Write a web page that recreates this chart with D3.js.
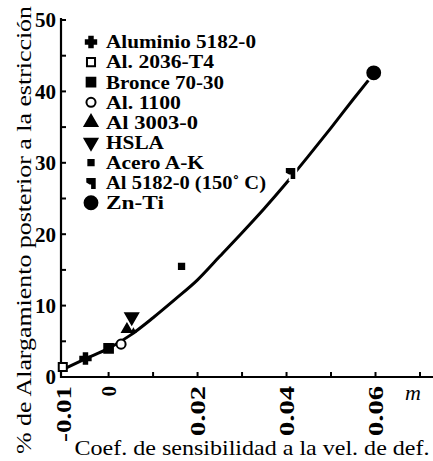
<!DOCTYPE html>
<html>
<head>
<meta charset="utf-8">
<script src="https://cdn.jsdelivr.net/npm/d3@7"></script>
<style>
  html, body { margin: 0; padding: 0; background: #fff; }
  svg { display: block; }
</style>
</head>
<body>
<svg id="chart" width="433" height="461"></svg>
<script>
// ---- data ----
const seriesNames = ["Aluminio 5182-0", "Al. 2036-T4", "Bronce 70-30", "Al. 1100", "Al 3003-0", "HSLA", "Acero A-K", "Al 5182-0 (150\u02da C)", "Zn-Ti"];
const seriesSymbols = ["cross", "squareOpen", "square", "circleOpen", "triangleUp", "triangleDown", "squareSmall", "hook", "circleBig"];
const pointSeries = [0, 1, 2, 3, 4, 5, 6, 7, 8];
const pointM      = [-0.0052, -0.0103, 0.0, 0.0028, 0.0045, 0.0052, 0.0164, 0.0409, 0.0596];
const pointPct    = [2.6, 1.4, 4.0, 4.6, 6.8, 8.4, 15.5, 28.6, 42.6];
const curveM   = [-0.0105, -0.005, 0.0, 0.005, 0.01, 0.015, 0.02, 0.025, 0.03, 0.035, 0.04, 0.045, 0.05, 0.055, 0.0595];
const curvePct = [1.0, 2.6, 4.0, 5.9, 8.3, 10.9, 13.6, 16.9, 20.2, 23.6, 27.2, 31.0, 34.9, 38.9, 42.4];
const xTickValues = [-0.01, 0, 0.02, 0.04, 0.06];
const xTickLabels = ["-0.01", "0", "0.02", "0.04", "0.06"];
const xMinorTicks = [-0.01, 0, 0.01, 0.02, 0.03, 0.04, 0.05, 0.06, 0.07];
const yTickValues = [0, 10, 20, 30, 40, 50];
const yMinorTicks = [5, 15, 25, 35, 45];
const xTitle = "Coef. de sensibilidad a la vel. de def.";
const yTitle = "% de Alargamiento posterior a la estricción";
const xUnit = "m";

const FONT = '"Liberation Serif"';

// ---- scales ----
const svg = d3.select("#chart");
const x = d3.scaleLinear().domain([-0.0107, 0.0727]).range([61, 432]);
const y = d3.scaleLinear().domain([0, 50]).range([377, 20]);

// axes lines
svg.append("line").attr("x1", x.range()[0]).attr("x2", 433).attr("y1", y(0)).attr("y2", y(0))
  .attr("stroke", "#000").attr("stroke-width", 2.2);
svg.append("line").attr("x1", x.range()[0]).attr("x2", x.range()[0]).attr("y1", y(0) + 1).attr("y2", y(50) - 2)
  .attr("stroke", "#000").attr("stroke-width", 2.2);

// x ticks (inward)
svg.selectAll(".xt").data(xMinorTicks.filter(d => d > -0.01)).enter().append("line")
  .attr("x1", d => x(d)).attr("x2", d => x(d)).attr("y1", y(0)).attr("y2", y(0) - 5)
  .attr("stroke", "#000").attr("stroke-width", 2);
// y ticks (inward)
svg.selectAll(".yt").data(yTickValues.concat(yMinorTicks)).enter().append("line")
  .attr("x1", x.range()[0]).attr("x2", x.range()[0] + 5).attr("y1", d => y(d)).attr("y2", d => y(d))
  .attr("stroke", "#000").attr("stroke-width", 2);

function txt(sel) { return sel.style("font-family", FONT).attr("fill", "#000"); }

// y tick labels
txt(svg.selectAll(".yl").data(yTickValues).enter().append("text"))
  .attr("x", 56).attr("y", d => y(d)).attr("dy", "0.35em")
  .attr("text-anchor", "end").attr("font-size", 21).attr("font-weight", "bold")
  .text(d => d);

// x tick labels (rotated)
txt(svg.selectAll(".xl").data(xTickValues).enter().append("text"))
  .attr("transform", d => `translate(${x(d)},386) rotate(-90)`)
  .attr("dy", "0.35em").attr("text-anchor", "end").attr("font-size", 21).attr("font-weight", "bold")
  .attr("textLength", (d, i) => xTickLabels[i].length === 1 ? null : (xTickLabels[i].length === 4 ? 50 : 56))
  .attr("lengthAdjust", "spacingAndGlyphs")
  .text((d, i) => xTickLabels[i]);

// unit m
txt(svg.append("text")).attr("x", 413).attr("y", 400).attr("text-anchor", "middle")
  .attr("font-size", 22).attr("font-style", "italic").text(xUnit);

// axis titles
txt(svg.append("text")).attr("x", 252).attr("y", 455).attr("text-anchor", "middle")
  .attr("font-size", 21).attr("textLength", 355).attr("lengthAdjust", "spacingAndGlyphs").text(xTitle);
txt(svg.append("text")).attr("transform", "translate(31,230) rotate(-90)").attr("text-anchor", "middle")
  .attr("font-size", 21).attr("textLength", 448).attr("lengthAdjust", "spacingAndGlyphs").text(yTitle);

// ---- curve ----
const curveData = curveM.map((m, i) => ({ m, v: curvePct[i] }));
svg.append("path").datum(curveData)
  .attr("d", d3.line().x(d => x(d.m)).y(d => y(d.v)).curve(d3.curveMonotoneX))
  .attr("fill", "none").attr("stroke", "#000").attr("stroke-width", 3);

// ---- symbols ----
const hook = {
  draw(ctx, size) {
    const s = Math.sqrt(size) / 2;
    ctx.moveTo(-s, -s);
    ctx.lineTo(s, -s);
    ctx.lineTo(s, s * 1.4);
    ctx.lineTo(s * 0.3, s * 1.4);
    ctx.lineTo(s * 0.3, s * 0.2);
    ctx.lineTo(-s * 0.3, s * 0.2);
    ctx.lineTo(-s, -s * 0.2);
    ctx.closePath();
  }
};
function symbolSpec(kind) {
  switch (kind) {
    case "cross": return { type: d3.symbolCross, size: 60, fill: true };
    case "squareOpen": return { type: d3.symbolSquare, size: 65, fill: false };
    case "square": return { type: d3.symbolSquare, size: 75, fill: true };
    case "circleOpen": return { type: d3.symbolCircle, size: 65, fill: false };
    case "triangleUp": return { type: d3.symbolTriangle, size: 70, fill: true, rot: 0 };
    case "triangleDown": return { type: d3.symbolTriangle, size: 70, fill: true, rot: 180 };
    case "squareSmall": return { type: d3.symbolSquare, size: 28, fill: true };
    case "hook": return { type: hook, size: 55, fill: true };
    case "circleBig": return { type: d3.symbolCircle, size: 130, fill: true };
  }
}
function drawSymbol(g, kind, cx, cy, halo) {
  const sp = symbolSpec(kind);
  const path = d3.symbol().type(sp.type).size(sp.size)();
  const tr = `translate(${cx},${cy})` + (sp.rot ? ` rotate(${sp.rot})` : "");
  if (halo) {
    g.append("path").attr("d", path).attr("transform", tr)
      .attr("fill", "#fff").attr("stroke", "#fff").attr("stroke-width", 6);
  }
  g.append("path").attr("d", path).attr("transform", tr)
    .attr("fill", sp.fill ? "#000" : "#fff").attr("stroke", "#000").attr("stroke-width", 2);
}

const gPts = svg.append("g");
pointSeries.forEach((s, i) => {
  drawSymbol(gPts, seriesSymbols[s], x(pointM[i]), y(pointPct[i]), s >= 5);
});

// ---- legend ----
const legendTextLengths = [150, 108, 118, 75, 92, 58, 98, 160, 58];
const gLeg = svg.append("g");
seriesNames.forEach((name, i) => {
  const ly = 42 + i * 20.1;
  drawSymbol(gLeg, seriesSymbols[i], 91, ly, false);
  txt(gLeg.append("text")).attr("x", 106).attr("y", ly).attr("dy", "0.35em")
    .attr("font-size", 18).attr("font-weight", "bold")
    .attr("textLength", legendTextLengths[i]).attr("lengthAdjust", "spacingAndGlyphs")
    .text(name);
});
</script>
</body>
</html>
